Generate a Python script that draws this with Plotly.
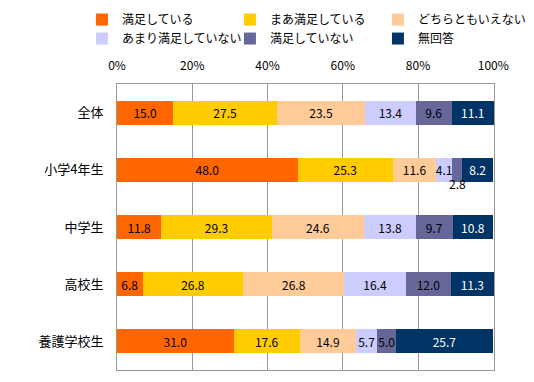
import plotly.graph_objects as go

categories = ["全体", "小学4年生", "中学生", "高校生", "養護学校生"]
series_names = ["満足している", "まあ満足している", "どちらともいえない",
                "あまり満足していない", "満足していない", "無回答"]
v_satisfied = [15.0, 48.0, 11.8, 6.8, 31.0]
v_mostly = [27.5, 25.3, 29.3, 26.8, 17.6]
v_neutral = [23.5, 11.6, 24.6, 26.8, 14.9]
v_notmuch = [13.4, 4.1, 13.8, 16.4, 5.7]
v_not = [9.6, 2.8, 9.7, 12.0, 5.0]
v_noanswer = [11.1, 8.2, 10.8, 11.3, 25.7]
tick_vals = [0, 20, 40, 60, 80, 100]
tick_text = ["0%", "20%", "40%", "60%", "80%", "100%"]

series_values = [v_satisfied, v_mostly, v_neutral, v_notmuch, v_not, v_noanswer]
colors = ["#FF6600", "#FFCC00", "#FFCC99", "#CCCCFF", "#666699", "#003366"]
text_colors = ["black", "black", "black", "black", "black", "white"]

FONT = "Noto Sans CJK JP"
fig = go.Figure()
for i, (name, vals) in enumerate(zip(series_names, series_values)):
    texts = [f"{v:.1f}" for v in vals]
    if i == 4:
        texts[1] = ""  # shown below the bar instead
    fig.add_trace(go.Bar(
        y=categories, x=vals, name=name, orientation="h",
        marker=dict(color=colors[i], line=dict(width=0)),
        text=texts, textposition="inside", insidetextanchor="middle",
        textangle=0,
        textfont=dict(color=text_colors[i], size=12, family=FONT),
        constraintext="none", cliponaxis=False,
        hoverinfo="skip",
    ))

# label for the small 2.8 segment placed just below its bar
x_small = sum(series_values[k][1] for k in range(4)) + v_not[1] / 2
fig.add_annotation(x=x_small, y=categories[1], text=f"{v_not[1]:.1f}",
                   showarrow=False, yshift=-14, xshift=0,
                   font=dict(size=12, color="black", family=FONT))

fig.update_layout(
    barmode="stack", bargap=0.58,
    width=526, height=374,
    margin=dict(l=109, r=40, t=76, b=12, autoexpand=False),
    paper_bgcolor="white", plot_bgcolor="white",
    font=dict(family=FONT, size=12, color="black"),
    uniformtext=dict(minsize=12, mode="show"),
    legend=dict(orientation="h", x=-0.093, y=1.276, xanchor="left", yanchor="top",
                entrywidth=103, entrywidthmode="pixels",
                font=dict(size=12, family=FONT), traceorder="normal",
                itemwidth=30, tracegroupgap=0),
    showlegend=True,
)
fig.update_xaxes(side="top", range=[0, 100.2], tickvals=tick_vals, ticktext=tick_text,
                 showgrid=True, gridcolor="#999999", gridwidth=1,
                 showline=True, linecolor="#999999", linewidth=1, mirror=True,
                 ticks="", ticklabelstandoff=8, zeroline=False,
                 tickfont=dict(size=12, family=FONT))
fig.update_yaxes(autorange="reversed", showline=True, linecolor="#999999", linewidth=1,
                 mirror=True, ticks="", ticklabelstandoff=10,
                 tickfont=dict(size=13, family=FONT))

fig.write_html("out.html")
